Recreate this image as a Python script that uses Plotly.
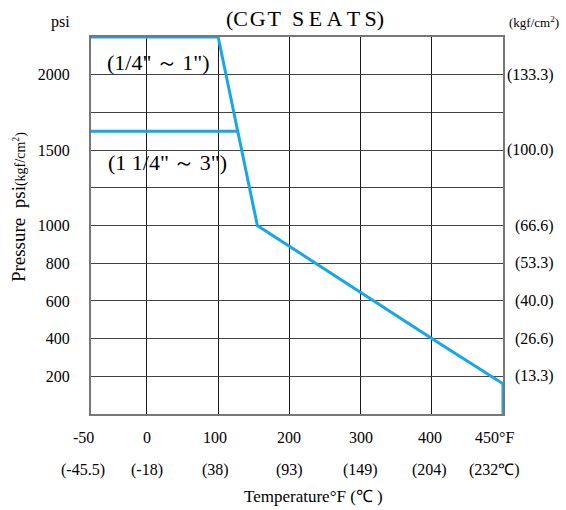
import numpy as np
import plotly.graph_objects as go

# ---- data ----
temp_ticks = [-50, 0, 100, 200, 300, 400, 450]
temp_labels = ["-50", "0", "100", "200", "300", "400", "450°F"]
celsius_labels = ["(-45.5)", "(-18)", "(38)", "(93)", "(149)", "(204)", "(232℃)"]
psi_levels = [0, 200, 400, 600, 800, 1000, 1250, 1500, 1750, 2000, 2250]
psi_ticks = [200, 400, 600, 800, 1000, 1500, 2000]
psi_labels = ["200", "400", "600", "800", "1000", "1500", "2000"]
kgf_labels = ["(13.3)", "(26.6)", "(40.0)", "(53.3)", "(66.6)", "(100.0)", "(133.3)"]

small_temp = [-50, 100, 155, 400, 450, 450]
small_psi = [2250, 2250, 1000, 400, 160, 0]
large_temp = [-50, 128]
large_psi = [1625, 1625]

# ---- chart grid layout (non-uniform printed grid) ----
x_grid_pos = [0, 0.786, 1.786, 2.786, 3.786, 4.786, 5.786]
y_grid_pos = list(range(len(psi_levels)))
# small label nudges (px) to match the printed chart
label_shift = [-8, 0, -3, 0, 0, -2, -9]


def fx(t):
    return np.interp(t, temp_ticks, x_grid_pos)


def fy(p):
    return np.interp(p, psi_levels, y_grid_pos)


FONT = "Liberation Serif, Times New Roman, serif"
BLUE = "#17a7e7"

fig = go.Figure()
fig.add_trace(go.Scatter(x=fx(small_temp), y=fy(small_psi), mode="lines",
                         line=dict(color=BLUE, width=3), cliponaxis=False,
                         hoverinfo="skip", showlegend=False))
fig.add_trace(go.Scatter(x=fx(large_temp), y=fy(large_psi), mode="lines",
                         line=dict(color=BLUE, width=3), cliponaxis=False,
                         hoverinfo="skip", showlegend=False))

ann = []
# fahrenheit row and celsius row
for t, lab, lab2, dx in zip(temp_ticks, temp_labels, celsius_labels, label_shift):
    ann.append(dict(x=fx(t), y=-0.062, xref="x", yref="paper", text=lab, xshift=dx,
                    showarrow=False, font=dict(size=16), xanchor="center", yanchor="middle"))
    ann.append(dict(x=fx(t), y=-0.148, xref="x", yref="paper", text=lab2, xshift=dx,
                    showarrow=False, font=dict(size=16), xanchor="center", yanchor="middle"))
# kgf labels right
for p, lab in zip(psi_ticks, kgf_labels):
    ann.append(dict(x=1.128, y=fy(p), xref="paper", yref="y", text=lab,
                    showarrow=False, font=dict(size=16), xanchor="right", yanchor="middle"))
# headers
ann += [
    dict(x=0.519, y=1.05, xref="paper", yref="paper",
         text="(C\u200aG\u200aT\u2002S\u2009E\u2009A\u2009T\u2009S)",
         showarrow=False, font=dict(size=22), xanchor="center", yanchor="middle"),
    dict(x=-0.045, y=1.04, xref="paper", yref="paper", text="psi",
         showarrow=False, font=dict(size=16), xanchor="right", yanchor="middle"),
    dict(x=1.14, y=1.04, xref="paper", yref="paper", text="(kgf/cm<sup>2</sup>)",
         showarrow=False, font=dict(size=13), xanchor="right", yanchor="middle"),
    dict(x=-0.177, y=0.549, xref="paper", yref="paper",
         text="Pressure  psi<span style='font-size:14px'>(kgf/cm<sup>2</sup>)</span>",
         textangle=-90, showarrow=False, font=dict(size=19), xanchor="center", yanchor="middle"),
    dict(x=0.54, y=-0.219, xref="paper", yref="paper", text="Temperature°F (℃ )",
         showarrow=False, font=dict(size=17), xanchor="center", yanchor="middle"),
    dict(x=0.165, y=0.933, xref="paper", yref="paper", text="(1/4\"\u2009～\u20091\")",
         showarrow=False, font=dict(size=22), xanchor="center", yanchor="middle"),
    dict(x=0.186, y=0.666, xref="paper", yref="paper", text="(1 1/4\"\u2009～\u20093\")",
         showarrow=False, font=dict(size=22), xanchor="center", yanchor="middle"),
]

fig.update_layout(
    width=566, height=510,
    margin=dict(l=91, r=63, t=37, b=96),
    paper_bgcolor="white", plot_bgcolor="white",
    font=dict(family=FONT, size=16, color="black"),
    annotations=ann,
    xaxis=dict(range=[x_grid_pos[0], x_grid_pos[-1]], tickmode="array",
               tickvals=x_grid_pos, showticklabels=False, showgrid=True,
               gridcolor="#1a1a1a", gridwidth=1, zeroline=False,
               showline=True, mirror=True, linecolor="#777777", linewidth=2,
               ticks=""),
    yaxis=dict(range=[y_grid_pos[0], y_grid_pos[-1]], tickmode="array",
               tickvals=list(fy(psi_ticks)), ticktext=psi_labels, showgrid=True,
               gridcolor="#444444", gridwidth=1, zeroline=False,
               minor=dict(tickmode="array", tickvals=y_grid_pos, showgrid=True,
                          gridcolor="#444444", gridwidth=1, ticks=""),
               showline=True, mirror=True, linecolor="#777777", linewidth=2,
               ticks="", ticklabelstandoff=16, tickfont=dict(size=16)),
)

fig.write_html("out.html", config={"displayModeBar": False},
               post_script="document.body.style.margin='0';")
